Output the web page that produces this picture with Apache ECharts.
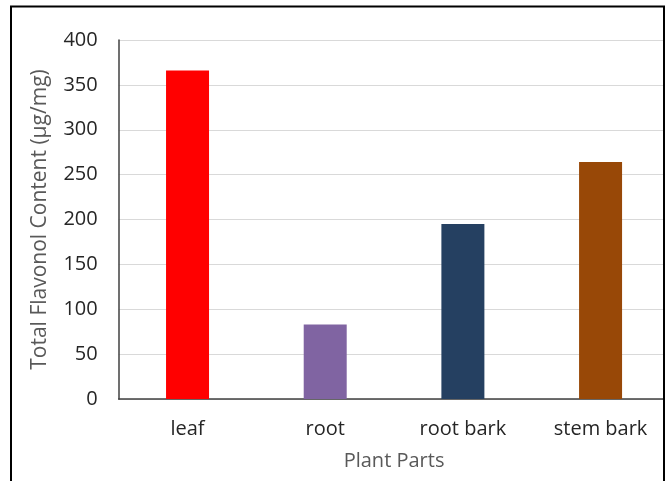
<!DOCTYPE html>
<html>
<head>
<meta charset="utf-8">
<script src="https://cdn.jsdelivr.net/npm/echarts@6/dist/echarts.min.js"></script>
<style>
html,body{margin:0;padding:0;background:#fff;}
#chart{width:671px;height:481px;}
</style>
</head>
<body>
<div id="chart"></div>
<script>
const categories = ["leaf", "root", "root bark", "stem bark"];
const values = [366, 83, 195, 264];
const barColors = ["#FF0000", "#8064A2", "#254061", "#984807"];
const yTicks = [0, 50, 100, 150, 200, 250, 300, 350, 400];

const chart = echarts.init(document.getElementById('chart'), null, {renderer: 'canvas'});
const FONT = "Open Sans";
chart.setOption({
  animation: false,
  backgroundColor: '#fff',
  grid: {left: 118.7, right: 1.6, top: 40, bottom: 82, containLabel: false, outerBoundsMode: 'none'},
  xAxis: {
    type: 'category',
    data: categories,
    name: 'Plant Parts',
    nameLocation: 'middle',
    nameGap: 52,
    nameTextStyle: {color: '#595959', fontSize: 20, fontFamily: FONT},
    axisLine: {lineStyle: {color: '#404040', width: 1.5}},
    axisTick: {show: false},
    axisLabel: {color: '#262626', fontSize: 20, fontFamily: FONT, margin: 20},
    splitLine: {show: false}
  },
  yAxis: {
    type: 'value',
    min: yTicks[0],
    max: yTicks[yTicks.length - 1],
    interval: 50,
    name: 'Total Flavonol Content (µg/mg)',
    nameLocation: 'middle',
    nameGap: 68,
    nameRotate: 90,
    nameTextStyle: {color: '#595959', fontSize: 21, fontFamily: FONT},
    axisLine: {show: true, lineStyle: {color: '#404040', width: 1.5}},
    axisTick: {show: false},
    axisLabel: {color: '#262626', fontSize: 20, fontFamily: FONT, margin: 21},
    splitLine: {lineStyle: {color: '#D9D9D9', width: 1}}
  },
  series: [{
    type: 'bar',
    data: values.map((v, i) => ({value: v, itemStyle: {color: barColors[i]}})),
    barWidth: 43
  }],
  graphic: [
    {type: 'rect', z: 100, shape: {x: 665, y: 0, width: 10, height: 481}, style: {fill: '#fff'}},
    {type: 'rect', z: 101, shape: {x: 11, y: 6.5, width: 653, height: 490}, style: {fill: 'none', stroke: '#000', lineWidth: 2}}
  ]
});
</script>
</body>
</html>
